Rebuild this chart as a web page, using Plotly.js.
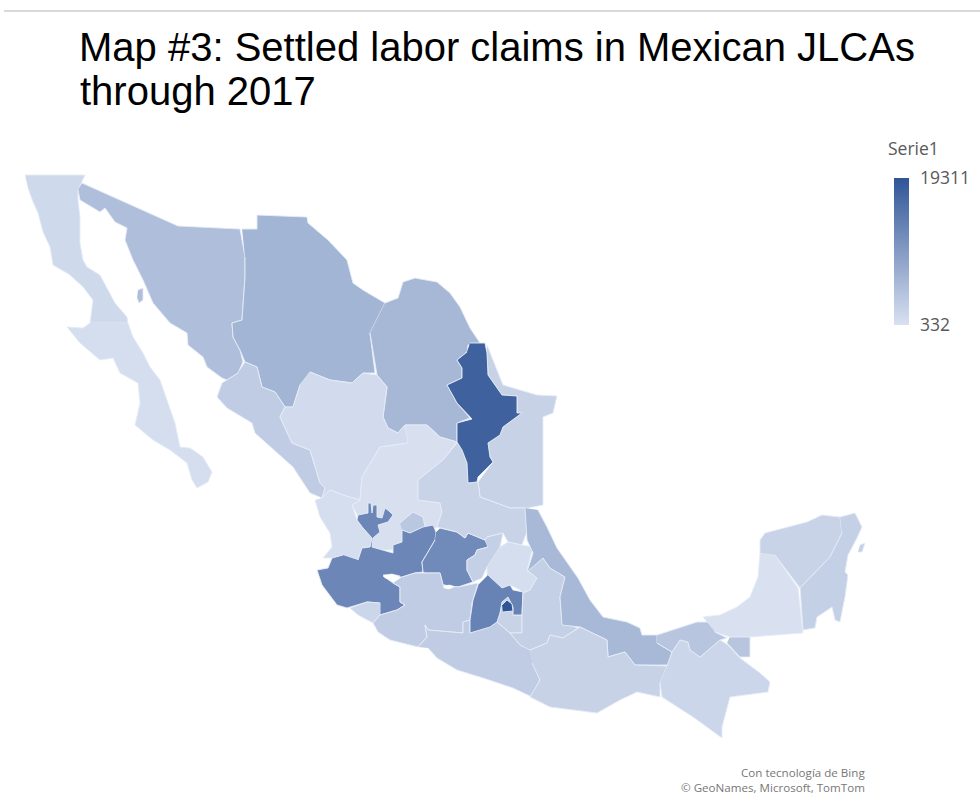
<!DOCTYPE html>
<html>
<head>
<meta charset="utf-8">
<script src="https://cdn.plot.ly/plotly-3.0.0.min.js"></script>
<style>html,body{margin:0;padding:0;background:#fff}#map{width:980px;height:800px}</style>
</head>
<body>
<div id="map"></div>
<script>
// Settled claims per state; the legend spans the smallest and largest value.
const stateNames = ["Baja California","Baja California Sur","Sonora","Chihuahua","Coahuila","Tamaulipas","Sinaloa","Durango","Zacatecas","Nayarit","Aguascalientes","Jalisco","Guanajuato","Colima","Michoacán","Guerrero","San Luis Potosí","Querétaro","Hidalgo","Morelos","Estado de México","Tlaxcala","Puebla","Veracruz","Oaxaca","Chiapas","Tabasco","Campeche","Yucatán","Quintana Roo","Nuevo León","Ciudad de México"];
const stateValues = [1450,780,5020,6360,5910,2340,3230,1110,440,780,3900,12500,12100,1780,3230,3230,2230,2680,780,2230,13060,550,2680,5800,2340,1890,4130,332,2230,2680,17520,19311];

// State outlines in map units, as x,y pairs; null separates islands and exclaves.
const outlineBajaCalifornia = [25,175,85,175,78,190,78,200,80,217,80,243,83,260,87,267,100,275,107,288,115,303,127,317,128,323,90,323,93,300,83,287,70,275,53,265,50,247,43,232,38,213,33,202,28,188];
const outlineBajaSur = [128,323,133,337,143,353,150,367,160,380,167,400,175,423,180,447,190,448,203,457,212,472,208,482,197,488,192,480,187,463,170,450,153,440,135,425,140,403,138,383,120,373,113,358,100,360,80,343,67,327,83,328,90,323];
const outlineSonora = [82,183,170,222,178,226,240,229,245,257,245,277,242,320,232,323,233,337,240,350,243,362,238,373,227,380,222,378,207,367,203,357,188,345,187,333,170,323,153,303,143,280,133,260,125,240,127,228,115,222,105,208,100,212,80,200,78,190,null,null,138,290,143,288,143,300,139,303,137,298];
const outlineChihuahua = [242,229,257,229,257,215,307,217,308,223,328,240,347,260,353,283,363,290,385,303,370,333,375,373,363,373,352,383,330,380,310,372,300,385,293,407,285,407,275,392,262,387,257,367,245,362,240,350,233,337,232,323,242,320,245,277,245,257];
const outlineCoahuila = [385,303,398,298,403,282,415,278,437,282,450,293,460,307,470,328,480,343,468,345,467,352,457,360,462,368,462,378,447,385,457,403,470,418,457,423,457,442,440,437,427,425,405,425,398,433,388,428,383,417,387,387,377,375,370,333];
const outlineNuevoLeon = [470,343,485,343,487,353,488,375,502,395,517,396,517,413,522,413,503,427,500,435,488,443,490,457,493,462,478,477,477,482,468,483,467,463,462,450,457,442,457,423,472,419,457,403,447,385,462,378,462,368,457,360,467,352];
const outlineTamaulipas = [487,345,493,360,503,385,537,395,557,396,553,413,543,417,543,505,528,508,510,508,480,497,478,482,493,462,490,457,488,443,500,435,503,427,522,413,517,413,517,396,502,395,488,375,487,353];
const outlineSinaloa = [245,362,257,367,262,387,275,392,285,407,280,417,292,443,310,450,320,483,325,488,322,498,310,493,293,467,270,447,255,433,252,423,227,408,217,397,222,383,238,373];
const outlineDurango = [310,372,330,380,352,383,363,373,377,375,387,387,383,417,388,428,398,433,405,425,408,443,380,447,368,467,362,477,360,500,343,495,330,490,322,498,325,488,320,483,310,450,292,443,280,417,285,407,293,407,300,385];
const outlineZacatecas = [405,425,427,425,440,437,457,442,443,460,418,480,418,500,440,503,442,512,437,527,433,530,400,550,372,550,360,520,352,505,360,500,362,477,368,467,380,447,408,443];
const outlineNayarit = [322,498,330,490,343,495,360,500,352,505,357,520,363,528,372,538,370,547,362,548,358,560,343,555,332,558,323,558,332,547,330,533,320,517,315,500];
const outlineAguascalientes = [400,523,413,512,423,517,425,527,410,533,402,530];
const outlineJalisco = [358,560,362,548,370,547,372,538,363,528,357,520,358,515,368,513,368,503,371,503,372,513,373,505,377,505,377,517,382,518,385,508,389,511,393,515,388,522,378,525,380,532,373,538,372,547,393,553,393,545,402,542,402,530,410,533,423,527,433,525,436,532,435,540,428,552,422,562,423,572,415,573,402,577,383,576,393,583,400,587,400,602,405,605,397,610,380,615,380,603,367,602,347,608,337,605,328,593,322,585,317,570,328,568,332,558,343,555];
const outlineGuanajuato = [436,532,440,528,457,532,465,538,468,533,485,540,488,547,477,550,475,555,467,560,467,570,473,582,458,587,443,585,440,573,425,573,423,572,422,562,428,552,435,540];
const outlineColima = [380,603,367,602,350,608,358,615,373,623,380,615];
const outlineMichoacan = [402,577,415,573,425,573,440,573,443,585,458,587,478,583,472,603,470,620,463,622,463,633,428,630,425,625,427,637,418,647,390,640,378,632,373,623,380,615,397,610,405,605,400,602,400,587,393,583];
const outlineGuerrero = [418,647,427,637,425,625,428,630,463,633,463,622,470,620,470,633,487,627,497,622,510,633,520,645,530,648,533,663,540,677,538,687,532,697,513,688,483,678,457,670,437,658,428,648];
const outlineSanLuis = [457,443,443,460,418,480,418,500,440,503,442,512,437,527,457,532,465,538,468,533,485,540,487,537,503,533,508,542,522,545,530,523,525,508,510,508,480,497,478,482,477,482,468,483,467,463,462,450];
const outlineQueretaro = [488,547,477,550,475,555,467,560,467,570,473,582,482,578,487,567,500,547,503,533,487,537,485,540];
const outlineHidalgo = [500,547,508,542,522,545,533,547,527,570,537,578,530,590,523,593,520,590,510,585,502,588,487,575,487,567];
const outlineMorelos = [500,613,502,600,507,596,513,600,513,615,522,615,522,633,510,633,497,622];
const outlineMexico = [488,575,502,588,510,585,513,590,523,592,522,615,513,615,513,607,508,597,502,602,500,613,497,622,490,627,470,633,470,620,473,600,478,585];
const outlineTlaxcala = [523,597,535,593,552,602,542,610,533,608];
const outlinePuebla = [527,570,537,578,530,590,523,593,522,615,522,633,510,633,520,645,530,650,547,643,550,635,563,638,578,628,562,623,560,597,565,577,550,568,543,558];
const outlineVeracruz = [538,510,547,527,557,548,578,578,590,600,603,617,627,622,640,628,642,635,657,635,657,643,672,652,668,665,635,665,625,652,608,657,607,640,593,633,580,627,562,625,560,597,565,577,550,568,543,558,527,572,533,553,527,540,525,508];
const outlineOaxaca = [530,650,547,643,550,635,563,638,580,627,593,633,607,640,608,657,625,652,635,665,667,666,660,683,660,697,637,692,620,700,597,713,575,710,550,707,530,697,540,680,532,663];
const outlineChiapas = [667,666,672,652,680,640,688,642,690,650,700,657,720,640,728,645,740,658,760,673,770,682,768,692,730,697,722,727,722,738,693,717,662,697,660,683];
const outlineTabasco = [657,635,697,622,713,622,715,632,727,638,720,640,700,657,690,650,688,642,680,640,672,652,657,643,null,null,733,630,750,635,750,657,740,657,727,643];
const outlineCampeche = [703,617,720,615,737,607,750,597,758,577,760,553,775,555,798,588,803,633,750,637,730,637,715,632];
const outlineYucatan = [760,553,760,540,765,533,807,522,822,515,840,517,842,533,830,557,800,588,775,555];
const outlineQuintanaRoo = [840,517,855,513,862,527,857,538,848,555,845,572,848,575,845,597,840,622,835,620,832,607,817,617,815,628,803,630,800,588,830,557,842,533,null,null,860,545,865,543,862,552,858,552];
const outlineCiudad = [502,605,507,600,512,604,513,611,503,612];
const stateOutlines = [outlineBajaCalifornia,outlineBajaSur,outlineSonora,outlineChihuahua,outlineCoahuila,outlineTamaulipas,outlineSinaloa,outlineDurango,outlineZacatecas,outlineNayarit,outlineAguascalientes,outlineJalisco,outlineGuanajuato,outlineColima,outlineMichoacan,outlineGuerrero,outlineSanLuis,outlineQueretaro,outlineHidalgo,outlineMorelos,outlineMexico,outlineTlaxcala,outlinePuebla,outlineVeracruz,outlineOaxaca,outlineChiapas,outlineTabasco,outlineCampeche,outlineYucatan,outlineQuintanaRoo,outlineNuevoLeon,outlineCiudad];

// Lakes are left blank on the map.
const lakeChapala = [383,575,392,574,400,576,394,579,385,578];
const lakeCuitzeo = [443,586,450,585,454,587,449,589,444,588];

const lowColor = [217,225,241];
const highColor = [47,85,151];
const colorScale = [[0,`rgb(${lowColor})`],[1,`rgb(${highColor})`]];
const valueMin = Math.min(...stateValues);
const valueMax = Math.max(...stateValues);

function shade(value) {
  const t = (value - valueMin) / (valueMax - valueMin);
  return "rgb(" + lowColor.map((c, i) => Math.round(c + (highColor[i] - c) * t)).join(",") + ")";
}
function xsOf(pairs) { return pairs.filter((_, i) => i % 2 === 0); }
function ysOf(pairs) { return pairs.filter((_, i) => i % 2 === 1); }
function mean(list) { const v = list.filter(n => n !== null); return v.reduce((a, b) => a + b, 0) / v.length; }

const traces = stateOutlines.map((pairs, i) => ({
  type: "scatter", mode: "lines", fill: "toself",
  x: xsOf(pairs), y: ysOf(pairs), name: stateNames[i],
  fillcolor: shade(stateValues[i]),
  line: {color: "rgba(230,236,247,0.9)", width: 1},
  hoverinfo: "skip", showlegend: false
}));

[lakeChapala, lakeCuitzeo].forEach(pairs => traces.push({
  type: "scatter", mode: "lines", fill: "toself",
  x: xsOf(pairs), y: ysOf(pairs),
  fillcolor: "#ffffff", line: {color: "#ffffff", width: 0.5},
  hoverinfo: "skip", showlegend: false
}));

// Invisible points carry the hover text and the colour legend.
const legendFont = {family: "Open Sans, sans-serif", size: 17.5, color: "#595959"};
traces.push({
  type: "scatter", mode: "markers",
  x: stateOutlines.map(p => mean(xsOf(p))),
  y: stateOutlines.map(p => mean(ysOf(p))),
  text: stateNames, showlegend: false,
  hovertemplate: "%{text}: %{marker.color}<extra></extra>",
  marker: {
    size: 8, opacity: 0, color: stateValues, cmin: valueMin, cmax: valueMax,
    colorscale: colorScale, showscale: true,
    colorbar: {
      x: 894 / 980, xanchor: "left", xpad: 0,
      y: (800 - 178) / 800, yanchor: "top", ypad: 0,
      len: 147, lenmode: "pixels", thickness: 15, thicknessmode: "pixels",
      outlinewidth: 0, borderwidth: 0,
      tickmode: "array", tickvals: [valueMin, valueMax], ticktext: [String(valueMin), String(valueMax)],
      ticks: "outside", ticklen: 8, tickcolor: "rgba(0,0,0,0)",
      tickfont: legendFont
    }
  }
});

const attribution = {family: "Open Sans, sans-serif", size: 11.6, color: "#777777"};
const layout = {
  width: 980, height: 800,
  paper_bgcolor: "#ffffff", plot_bgcolor: "#ffffff",
  margin: {l: 0, r: 0, t: 0, b: 0, autoexpand: false},
  showlegend: false, hovermode: "closest",
  xaxis: {range: [0, 980], visible: false, fixedrange: true},
  yaxis: {range: [800, 0], visible: false, fixedrange: true},
  title: {
    text: "Map #3: Settled labor claims in Mexican JLCAs",
    x: 79 / 980, xanchor: "left", xref: "paper",
    y: 1 - 47 / 800, yanchor: "middle", yref: "paper",
    font: {family: "Liberation Sans, Arial, sans-serif", size: 40, color: "#000000"}
  },
  shapes: [{type: "line", xref: "paper", yref: "paper", x0: 4 / 980, x1: 1, y0: 1 - 11 / 800, y1: 1 - 11 / 800, line: {color: "#d9d9d9", width: 2}}],
  annotations: [
    {text: "through 2017", xref: "paper", yref: "paper", x: 78 / 980, y: 1 - 91 / 800, xanchor: "left", yanchor: "middle", showarrow: false, font: {family: "Liberation Sans, Arial, sans-serif", size: 40, color: "#000000"}},
    {text: "Serie1", xref: "paper", yref: "paper", x: 886 / 980, y: 1 - 148 / 800, xanchor: "left", yanchor: "middle", showarrow: false, font: legendFont},
    {text: "Con tecnología de Bing", xref: "paper", yref: "paper", x: 867 / 980, y: 1 - 772 / 800, xanchor: "right", yanchor: "middle", showarrow: false, font: attribution},
    {text: "© GeoNames, Microsoft, TomTom", xref: "paper", yref: "paper", x: 867 / 980, y: 1 - 787 / 800, xanchor: "right", yanchor: "middle", showarrow: false, font: attribution}
  ]
};

Plotly.newPlot("map", traces, layout, {displayModeBar: false, responsive: false});
</script>
</body>
</html>
